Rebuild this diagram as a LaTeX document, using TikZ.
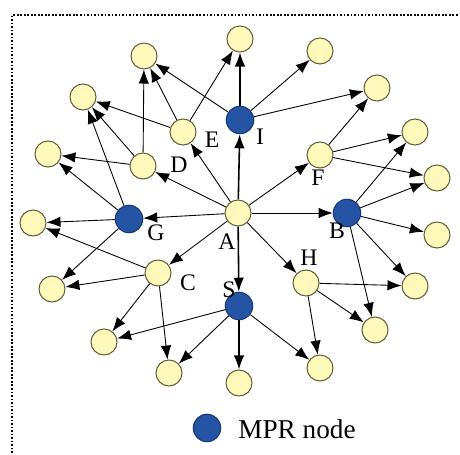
\documentclass[tikz,border=0pt]{standalone}
\usepackage{fontspec}
\setmainfont{Liberation Serif}
\usetikzlibrary{arrows.meta}
\definecolor{plainfill}{RGB}{255,250,188}
\definecolor{plainedge}{RGB}{95,95,60}
\definecolor{mprfill}{RGB}{38,84,165}
\definecolor{mpredge}{RGB}{25,55,115}
\tikzstyle{line} = [draw, line width=0.5pt, -{Latex[length=0.28cm,width=0.21cm]}]
\tikzstyle{thick line} = [line, line width=0.9pt]
\tikzstyle{plain} = [draw=plainedge, fill=plainfill, circle, line width=0.6pt, inner sep=0pt, minimum size=0.52cm]
\tikzstyle{mpr} = [draw=mpredge, fill=mprfill, circle, line width=0.6pt, inner sep=0pt, minimum size=0.55cm]
\tikzstyle{lbl} = [font=\rmfamily\fontsize{13.5}{15}\selectfont, inner sep=0pt]

\begin{document}
\begin{tikzpicture}[x=0.02cm,y=-0.02cm]
    \useasboundingbox (0,0) rectangle (460,455);
    \draw[densely dotted, line width=1pt] (12,453) -- (12,15) -- (460,15);

        % centre and relay nodes
        \node[plain] (A) at (238,213) {};
        \node[plain] (C) at (158,273) {};
        \node[plain] (D) at (143,166) {};
        \node[plain] (E) at (183,132) {};
        \node[plain] (F) at (320,155) {};
        \node[plain] (H) at (306,283) {};
        \node[mpr] (I) at (240,120) {};
        \node[mpr] (G) at (129,219) {};
        \node[mpr] (B) at (347,213) {};
        \node[mpr] (S) at (239,306) {};

        % outer ring
        \node[plain] (t1) at (144,56) {};
        \node[plain] (t2) at (240,39) {};
        \node[plain] (t3) at (320,51) {};
        \node[plain] (t4) at (377,88) {};
        \node[plain] (r1) at (415,132) {};
        \node[plain] (r2) at (437,178) {};
        \node[plain] (r3) at (437,235) {};
        \node[plain] (r4) at (415,286) {};
        \node[plain] (b1) at (375,330) {};
        \node[plain] (b2) at (320,368) {};
        \node[plain] (b3) at (239,383) {};
        \node[plain] (b4) at (169,373) {};
        \node[plain] (b5) at (104,342) {};
        \node[plain] (l1) at (52,289) {};
        \node[plain] (l2) at (33,223) {};
        \node[plain] (l3) at (48,154) {};
        \node[plain] (l4) at (83,97) {};

        % labels
        \node[lbl] (Alb) at (227,242) {A};
        \node[lbl] (Blb) at (337,231) {B};
        \node[lbl] (Clb) at (188,283) {C};
        \node[lbl] (Dlb) at (179,165) {D};
        \node[lbl] (Elb) at (212,140) {E};
        \node[lbl] (Flb) at (318,178) {F};
        \node[lbl] (Glb) at (156,233) {G};
        \node[lbl] (Hlb) at (309,258) {H};
        \node[lbl] (Ilb) at (260,137) {I};
        \node[lbl] (Slb) at (229,290) {S};

    % from A
    \draw[thick line] (A) -- (I);
    \draw[thick line] (A) -- (S);
    \draw[line] (A) -- (E);
    \draw[line] (A) -- (D);
    \draw[line] (A) -- (G);
    \draw[line] (A) -- (C);
    \draw[line] (A) -- (H);
    \draw[line] (A) -- (B);
    \draw[line] (A) -- (F);

    % second hop
    \draw[thick line] (I) -- (t2);
    \draw[line] (I) -- (t1);
    \draw[line] (I) -- (t3);
    \draw[line] (I) -- (t4);
    \draw[line] (E) -- (t2);
    \draw[line] (E) -- (t1);
    \draw[line] (E) -- (l4);
    \draw[line] (D) -- (t1);
    \draw[line] (D) -- (l4);
    \draw[line] (D) -- (l3);
    \draw[line] (G) -- (l4);
    \draw[line] (G) -- (l3);
    \draw[line] (G) -- (l2);
    \draw[line] (G) -- (l1);
    \draw[line] (C) -- (l2);
    \draw[line] (C) -- (l1);
    \draw[line] (C) -- (b5);
    \draw[line] (C) -- (b4);
    \draw[line] (S) -- (b5);
    \draw[line] (S) -- (b4);
    \draw[thick line] (S) -- (b3);
    \draw[line] (S) -- (b2);
    \draw[line] (H) -- (b2);
    \draw[line] (H) -- (b1);
    \draw[line] (H) -- (r4);
    \draw[line] (B) -- (b1);
    \draw[line] (B) -- (r4);
    \draw[line] (B) -- (r3);
    \draw[line] (B) -- (r2);
    \draw[line] (B) -- (r1);
    \draw[line] (F) -- (r2);
    \draw[line] (F) -- (r1);
    \draw[line] (F) -- (t4);

    % legend
    \node[mpr] (key) at (207,428) {};
    \node[font=\rmfamily\fontsize{15.5}{17}\selectfont, anchor=west, inner sep=0pt] (keytext) at (238,429) {MPR node};
    \end{tikzpicture}
\end{document}
